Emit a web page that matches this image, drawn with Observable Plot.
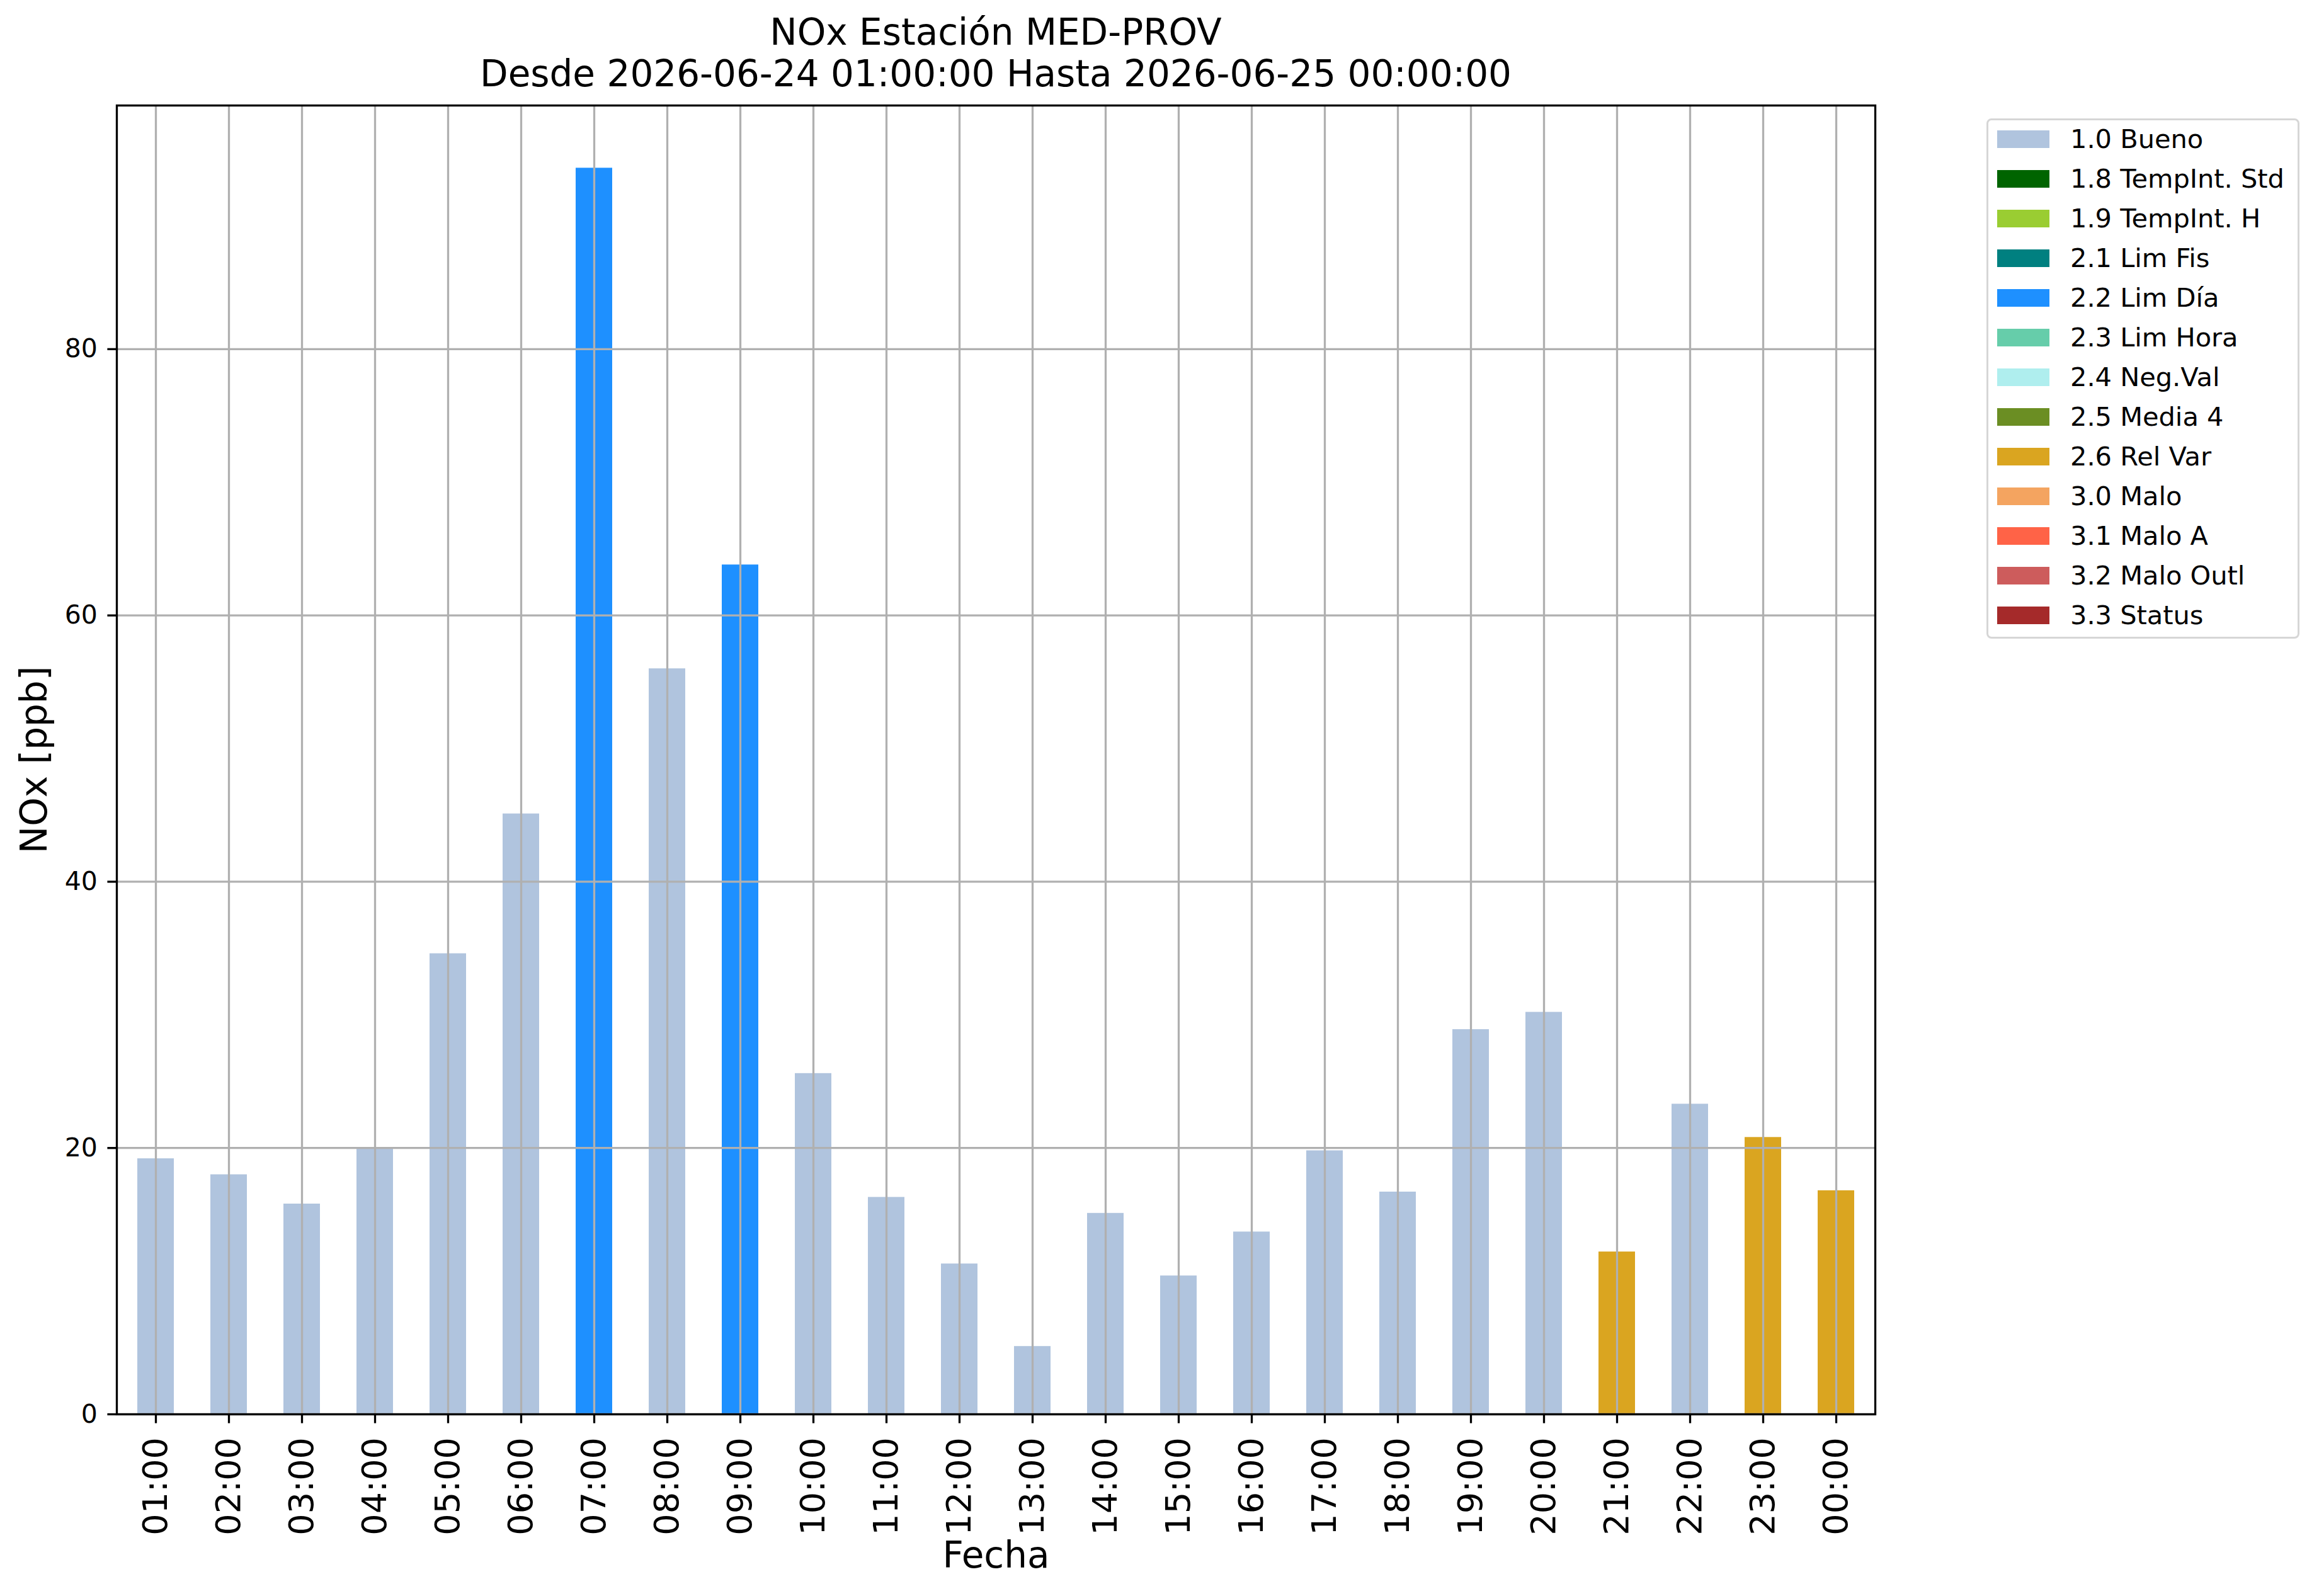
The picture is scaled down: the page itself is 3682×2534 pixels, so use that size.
<!DOCTYPE html>
<html>
<head>
<meta charset="utf-8">
<script src="https://cdn.jsdelivr.net/npm/d3@7"></script>
<script src="https://cdn.jsdelivr.net/npm/@observablehq/plot@0.6"></script>
<style>
  html, body { margin: 0; padding: 0; background: white; }
  #wrap { position: relative; width: 3682px; height: 2534px; font-family: "DejaVu Sans", sans-serif; color: black; }
  #title { position: absolute; left: 0; width: 3162px; top: 18px; text-align: center; font-size: 58px; line-height: 66px; }
  #legend { position: absolute; left: 3154px; top: 188px; width: 497px; height: 826px; box-sizing: border-box; border: 3px solid #d6d6d6; border-radius: 8px; background: rgba(255,255,255,0.8); }
  .lpatch { position: absolute; left: 14px; width: 83px; height: 28px; }
  .ltext { position: absolute; left: 130px; font-size: 41.5px; white-space: nowrap; line-height: 48px; }
</style>
</head>
<body>
<div id="wrap">
  <div id="chart"></div>
  <div id="title">NOx Estación MED-PROV<br>Desde 2026-06-24 01:00:00 Hasta 2026-06-25 00:00:00</div>
  <div id="legend"></div>
</div>
<script>
const hours = ["01:00","02:00","03:00","04:00","05:00","06:00","07:00","08:00","09:00","10:00","11:00","12:00",
               "13:00","14:00","15:00","16:00","17:00","18:00","19:00","20:00","21:00","22:00","23:00","00:00"];
const values = [19.2, 18.0, 15.8, 20.0, 34.6, 45.1, 93.6, 56.0, 63.8, 25.6, 16.3, 11.3,
                5.1, 15.1, 10.4, 13.7, 19.8, 16.7, 28.9, 30.2, 12.2, 23.3, 20.8, 16.8];
const flags = ["1.0 Bueno","1.0 Bueno","1.0 Bueno","1.0 Bueno","1.0 Bueno","1.0 Bueno","2.2 Lim Día","1.0 Bueno",
               "2.2 Lim Día","1.0 Bueno","1.0 Bueno","1.0 Bueno","1.0 Bueno","1.0 Bueno","1.0 Bueno","1.0 Bueno",
               "1.0 Bueno","1.0 Bueno","1.0 Bueno","1.0 Bueno","2.6 Rel Var","1.0 Bueno","2.6 Rel Var","2.6 Rel Var"];
const legendLabels = ["1.0 Bueno","1.8 TempInt. Std","1.9 TempInt. H","2.1 Lim Fis","2.2 Lim Día","2.3 Lim Hora",
                      "2.4 Neg.Val","2.5 Media 4","2.6 Rel Var","3.0 Malo","3.1 Malo A","3.2 Malo Outl","3.3 Status"];
const legendColors = ["#b0c4de","#006400","#9acd32","#008080","#1e90ff","#66cdaa",
                      "#afeeee","#6b8e23","#daa520","#f4a460","#ff6347","#cd5c5c","#a52a2a"];
const yTicks = [0, 20, 40, 60, 80];

const data = hours.map((h, i) => ({hour: h, value: values[i], flag: flags[i]}));

const chart = Plot.plot({
  width: 3682, height: 2534,
  marginLeft: 185, marginRight: 705, marginTop: 167, marginBottom: 289,
  style: {fontFamily: "DejaVu Sans", fontSize: "40px", background: "white", color: "black", overflow: "visible"},
  x: {type: "band", domain: hours, paddingInner: 0.5, paddingOuter: 0.25, label: null},
  y: {domain: [0, 98.3], label: null},
  color: {domain: legendLabels, range: legendColors},
  marks: [
    Plot.barY(data, {x: "hour", y: "value", fill: "flag"}),
    Plot.gridX({stroke: "#b0b0b0", strokeOpacity: 1, strokeWidth: 3.3}),
    Plot.gridY(yTicks, {stroke: "#b0b0b0", strokeOpacity: 1, strokeWidth: 3.3}),
    Plot.frame({stroke: "black", strokeWidth: 3.3}),
    Plot.axisY(yTicks, {tickSize: 14.6, tickPadding: 16, fontSize: 41, strokeWidth: 3.3, label: null}),
    Plot.axisX({tickSize: 14.6, tickPadding: 22, tickRotate: -90, fontSize: 54, strokeWidth: 3.3, label: null}),
    Plot.text(["Fecha"], {frameAnchor: "bottom", dy: 225, lineAnchor: "middle", textAnchor: "middle", fontSize: 58, text: d => d}),
    Plot.text(["NOx [ppb]"], {frameAnchor: "left", dx: -130, rotate: -90, lineAnchor: "middle", textAnchor: "middle", fontSize: 58, text: d => d})
  ]
});
document.getElementById("chart").appendChild(chart);

const legend = document.getElementById("legend");
legendLabels.forEach((lab, i) => {
  const cy = 30 + i * 63;
  const p = document.createElement("div");
  p.className = "lpatch";
  p.style.top = (cy - 14) + "px";
  p.style.background = legendColors[i];
  legend.appendChild(p);
  const t = document.createElement("div");
  t.className = "ltext";
  t.style.top = (cy - 24) + "px";
  t.textContent = lab;
  legend.appendChild(t);
});
</script>
</body>
</html>
